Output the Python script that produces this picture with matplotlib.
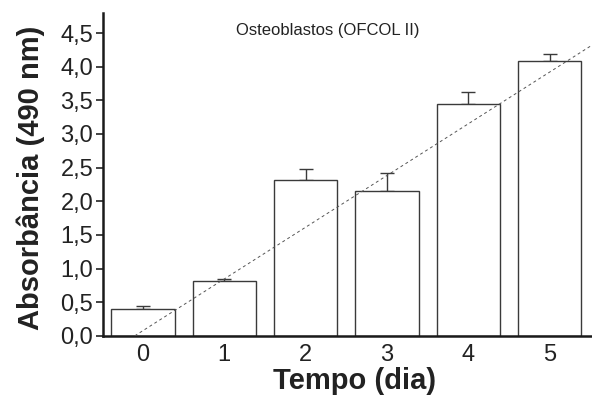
import matplotlib
matplotlib.use("Agg")
import matplotlib.pyplot as plt
import numpy as np

plt.rcParams['font.family'] = ['Liberation Sans', 'DejaVu Sans']

days = [0, 1, 2, 3, 4, 5]
absorbance = [0.40, 0.82, 2.32, 2.15, 3.45, 4.09]
err_upper = [0.05, 0.02, 0.16, 0.27, 0.18, 0.10]
trend_x = [-0.1, 5.52]
trend_y = [0.0, 4.32]
yticks = [0.0, 0.5, 1.0, 1.5, 2.0, 2.5, 3.0, 3.5, 4.0, 4.5]
ytick_labels = ['0,0', '0,5', '1,0', '1,5', '2,0', '2,5', '3,0', '3,5', '4,0', '4,5']

fig = plt.figure(figsize=(5.92, 3.97), dpi=100)
ax = fig.add_axes([0.174, 0.154, 0.826, 0.8136])

ax.bar(days, absorbance, width=0.78, color='white', edgecolor='#3a3a3a', linewidth=1.0, zorder=2)
ax.errorbar(days, absorbance, yerr=[np.zeros(len(days)), err_upper], fmt='none',
            ecolor='#3a3a3a', elinewidth=1.0, capsize=4.7, capthick=1.0, zorder=1)
ax.plot(trend_x, trend_y, linestyle=(0, (3, 3)), color='#555555', linewidth=0.7, zorder=3)

ax.set_xlim(-0.49, 5.52)
ax.set_ylim(0, 4.8)
ax.set_yticks(yticks)
ax.set_yticklabels(ytick_labels)
ax.set_xticks(days)
ax.set_xticklabels([str(d) for d in days])
ax.tick_params(axis='y', direction='out', length=5, width=1.2, labelsize=17, colors='#222222', pad=2)
ax.tick_params(axis='x', length=0, labelsize=17, colors='#222222', pad=6)
for s in ['top', 'right']:
    ax.spines[s].set_visible(False)
for s in ['left', 'bottom']:
    ax.spines[s].set_linewidth(1.8)
    ax.spines[s].set_color('#1a1a1a')

ax.set_ylabel('Absorbância (490 nm)', fontsize=21, fontweight='bold', color='#222222')
ax.yaxis.set_label_coords(-0.119, 0.49)
ax.set_xlabel('Tempo (dia)', fontsize=21, fontweight='bold', color='#222222')
ax.xaxis.set_label_coords(0.515, -0.095)
ax.text(0.46, 0.944, 'Osteoblastos (OFCOL II)', transform=ax.transAxes, ha='center', va='center',
        fontsize=12, color='#222222')

fig.savefig('out.png', dpi=100)
